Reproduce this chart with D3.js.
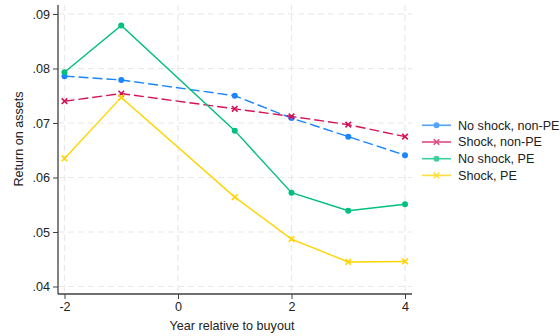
<!DOCTYPE html>
<html>
<head>
<meta charset="utf-8">
<script src="https://cdn.jsdelivr.net/npm/d3@7"></script>
<style>
  html, body { margin: 0; padding: 0; background: #fff; }
  svg { display: block; font-family: "Liberation Sans", Arial, sans-serif; }
</style>
</head>
<body>
<svg id="chart" width="560" height="336"></svg>
<script>
// Years relative to buyout
const years = [-2, -1, 1, 2, 3, 4];

// Return on assets by group
const noShockNonPE = [0.0786, 0.0779, 0.0750, 0.0709, 0.0675, 0.0641];
const shockNonPE   = [0.0740, 0.0754, 0.0726, 0.0712, 0.0697, 0.0675];
const noShockPE    = [0.0793, 0.0879, 0.0686, 0.0572, 0.0539, 0.0551];
const shockPE      = [0.0635, 0.0747, 0.0564, 0.0487, 0.0445, 0.0446];

const xTicks = [-2, 0, 2, 4];
const yTicks = [0.04, 0.05, 0.06, 0.07, 0.08, 0.09];

const seriesNames  = ["No shock, non-PE", "Shock, non-PE", "No shock, PE", "Shock, PE"];
const seriesValues = [noShockNonPE, shockNonPE, noShockPE, shockPE];
const seriesColors = ["#1a85ff", "#d41159", "#00bf7f", "#ffd400"];
const seriesDash   = ["10,4", "10,4", null, null];
const seriesMarker = ["circle", "cross", "circle", "cross"];

const FS = 12.6;
const svg = d3.select("#chart");

const plot = { left: 58, right: 412, top: 5, bottom: 294 };

const x = d3.scaleLinear().domain([-2, 4]).range([64.5, 405]);
const y = d3.scaleLinear().domain([0.04, 0.09]).range([286.5, 14]);

// Grid lines
const grid = svg.append("g");
grid.selectAll("line.h").data(yTicks).join("line")
  .attr("x1", plot.left).attr("x2", plot.right)
  .attr("y1", d => y(d)).attr("y2", d => y(d))
  .attr("stroke", "#e8e8e8").attr("stroke-width", 1.2)
  .attr("stroke-dasharray", "6,4");
grid.selectAll("line.v").data(xTicks).join("line")
  .attr("y1", plot.top).attr("y2", plot.bottom)
  .attr("x1", d => x(d)).attr("x2", d => x(d))
  .attr("stroke", "#e8e8e8").attr("stroke-width", 1.2)
  .attr("stroke-dasharray", "6,4");

// Axes
const yAxis = d3.axisLeft(y).tickValues(yTicks)
  .tickFormat(d => d3.format(".2f")(d).replace(/^0/, ""))
  .tickSize(5).tickPadding(3).tickSizeOuter(0);
const yg = svg.append("g").attr("transform", `translate(${plot.left},0)`).call(yAxis);
yg.select(".domain").attr("d", `M0,${plot.top}V${plot.bottom}`);

const xAxis = d3.axisBottom(x).tickValues(xTicks)
  .tickFormat(d => String(d))
  .tickSize(5).tickPadding(3).tickSizeOuter(0);
const xg = svg.append("g").attr("transform", `translate(0,${plot.bottom})`).call(xAxis);
xg.select(".domain").attr("d", `M${plot.left},0H${plot.right}`);

[yg, xg].forEach(g => {
  g.selectAll(".domain").attr("stroke", "#404040").attr("stroke-width", 1.3);
  g.selectAll(".tick line").attr("stroke", "#404040").attr("stroke-width", 1);
  g.selectAll(".tick text").attr("fill", "#222").attr("font-size", FS)
    .attr("font-family", "Liberation Sans, Arial, sans-serif");
});

// Axis titles
svg.append("text")
  .attr("x", 232).attr("y", 329.5)
  .attr("text-anchor", "middle").attr("font-size", FS).attr("fill", "#222")
  .text("Year relative to buyout");
svg.append("text")
  .attr("transform", "translate(23,139) rotate(-90)")
  .attr("text-anchor", "middle").attr("font-size", FS).attr("fill", "#222")
  .text("Return on assets");

// Series
const line = d3.line().x(d => x(d[0])).y(d => y(d[1]));

function drawMarker(g, kind, cx, cy, color) {
  if (kind === "circle") {
    g.append("circle").attr("cx", cx).attr("cy", cy).attr("r", 3)
      .attr("fill", color);
  } else {
    const s = 2.8;
    g.append("path")
      .attr("d", `M${cx - s},${cy - s}L${cx + s},${cy + s}M${cx - s},${cy + s}L${cx + s},${cy - s}`)
      .attr("stroke", color).attr("stroke-width", 1.6).attr("fill", "none");
  }
}

seriesValues.forEach((vals, i) => {
  const pts = years.map((yr, j) => [yr, vals[j]]);
  const g = svg.append("g");
  g.append("path").datum(pts)
    .attr("d", line)
    .attr("fill", "none")
    .attr("stroke", seriesColors[i])
    .attr("stroke-width", 1.4)
    .attr("stroke-dasharray", seriesDash[i]);
  pts.forEach(p => drawMarker(g, seriesMarker[i], x(p[0]), y(p[1]), seriesColors[i]));
});

// Legend
const legend = svg.append("g");
seriesNames.forEach((name, i) => {
  const ly = 125.3 + i * 16.7;
  const lg = legend.append("g").attr("opacity", 0.75);
  lg.append("line").attr("x1", 422).attr("x2", 451).attr("y1", ly).attr("y2", ly)
    .attr("stroke", seriesColors[i]).attr("stroke-width", 1.6);
  drawMarker(lg, seriesMarker[i], 436.5, ly, seriesColors[i]);
  legend.append("text").attr("x", 458).attr("y", ly + 4.4)
    .attr("font-size", FS).attr("fill", "#222").text(name);
});
</script>
</body>
</html>
